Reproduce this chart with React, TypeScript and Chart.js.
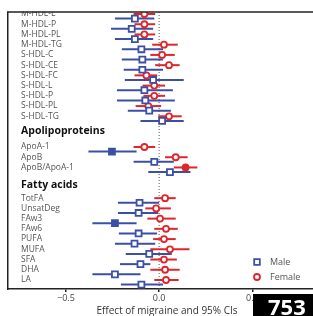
import React, { useEffect, useRef } from "react";
import { Chart, registerables } from "chart.js";

Chart.register(...registerables);

const rowLabels = ["M-HDL-L", "M-HDL-P", "M-HDL-PL", "M-HDL-TG", "S-HDL-C", "S-HDL-CE", "S-HDL-FC", "S-HDL-L", "S-HDL-P", "S-HDL-PL", "S-HDL-TG", "ApoA-1", "ApoB", "ApoB/ApoA-1", "TotFA", "UnsatDeg", "FAw3", "FAw6", "PUFA", "MUFA", "SFA", "DHA", "LA"];
const rowPos = [0, 1, 2, 3, 4, 5, 6, 7, 8, 9, 10, 13, 14, 15, 18, 19, 20, 21, 22, 23, 24, 25, 26];
const headerLabels = ["Apolipoproteins", "Fatty acids"];
const headerPos = [11.45, 16.7];

const femaleEst = [-0.079, -0.079, -0.079, 0.026, 0.016, 0.053, -0.068, -0.026, -0.026, -0.058, 0.053, -0.079, 0.089, 0.142, 0.032, -0.016, 0.005, 0.037, 0.026, 0.058, 0.026, 0.032, 0.037];
const femaleLo = [-0.137, -0.132, -0.132, -0.037, -0.047, -0.021, -0.132, -0.089, -0.084, -0.126, -0.005, -0.137, 0.032, 0.079, -0.026, -0.074, -0.063, -0.026, -0.032, -0.047, -0.047, -0.047, -0.026];
const femaleHi = [-0.021, -0.021, -0.021, 0.1, 0.084, 0.11, -0.01, 0.032, 0.032, 0.011, 0.121, -0.021, 0.153, 0.205, 0.089, 0.063, 0.089, 0.1, 0.089, 0.163, 0.095, 0.11, 0.105];
const femaleSig = [0, 0, 0, 0, 0, 0, 0, 0, 0, 0, 0, 0, 0, 1, 0, 0, 0, 0, 0, 0, 0, 0, 0];

const maleEst = [-0.13, -0.147, -0.13, -0.095, -0.09, -0.09, -0.032, -0.079, -0.074, -0.053, 0.016, -0.253, -0.026, 0.058, -0.105, -0.11, -0.237, -0.11, -0.132, -0.053, -0.1, -0.237, -0.095];
const maleLo = [-0.237, -0.258, -0.237, -0.2, -0.2, -0.19, -0.184, -0.226, -0.226, -0.168, -0.1, -0.379, -0.137, -0.058, -0.221, -0.221, -0.358, -0.216, -0.237, -0.179, -0.21, -0.358, -0.205];
const maleHi = [-0.026, -0.032, -0.032, 0.021, 0.021, 0.021, 0.132, 0.074, 0.084, 0.063, 0.132, -0.121, 0.079, 0.168, 0.0, -0.005, -0.121, -0.011, -0.021, 0.068, -0.047, -0.1, 0.021];
const maleSig = [0, 0, 0, 0, 0, 0, 0, 0, 0, 0, 0, 1, 0, 0, 0, 0, 1, 0, 0, 0, 0, 0, 0];

const xTicks = [-0.5, 0, 0.5];
const legendLabels = ["Male", "Female"];
const axisTitle = "Effect of migraine and 95% CIs";
const badgeText = "753";

const BLUE = "#3b4fa5";
const RED = "#e0262b";
const FONT = "'Open Sans', 'Noto Sans', sans-serif";
const FEMALE_OFF = 0;
const MALE_OFF = 0.45;

const allTicks = [
  ...rowPos.map((p, i) => ({ pos: p, label: rowLabels[i], header: false })),
  ...headerPos.map((p, i) => ({ pos: p, label: headerLabels[i], header: true })),
].sort((a, b) => a.pos - b.pos);

const forestPlugin = {
  id: "forest",
  beforeDatasetsDraw(chart: any) {
    const { ctx, chartArea } = chart;
    const xs = chart.scales.x;
    const ys = chart.scales.y;
    ctx.save();
    const x0 = xs.getPixelForValue(0);
    ctx.strokeStyle = "#555";
    ctx.lineWidth = 1;
    ctx.setLineDash([1, 2]);
    ctx.beginPath();
    ctx.moveTo(x0, chartArea.top);
    ctx.lineTo(x0, chartArea.bottom);
    ctx.stroke();
    ctx.setLineDash([]);
    ctx.lineWidth = 2;
    const drawBars = (lo: number[], hi: number[], off: number, color: string) => {
      ctx.strokeStyle = color;
      rowPos.forEach((p, i) => {
        const y = ys.getPixelForValue(p + off);
        ctx.beginPath();
        ctx.moveTo(xs.getPixelForValue(lo[i]), y);
        ctx.lineTo(xs.getPixelForValue(hi[i]), y);
        ctx.stroke();
      });
    };
    drawBars(maleLo, maleHi, MALE_OFF, BLUE);
    drawBars(femaleLo, femaleHi, FEMALE_OFF, RED);
    ctx.restore();
  },
  afterDraw(chart: any) {
    const { ctx, chartArea } = chart;
    ctx.save();
    ctx.fillStyle = "#fff";
    ctx.fillRect(0, 0, chart.width, chartArea.top - 0.5);
    ctx.strokeStyle = "#222";
    ctx.lineWidth = 1.5;
    ctx.beginPath();
    ctx.moveTo(chartArea.left - 0.75, chartArea.top);
    ctx.lineTo(chart.width, chartArea.top);
    ctx.stroke();
    const lx = 262;
    const ly = [262, 277];
    ctx.lineWidth = 1.8;
    ctx.strokeStyle = BLUE;
    ctx.fillStyle = "#fff";
    ctx.beginPath();
    ctx.rect(lx - 2.8, ly[0] - 2.8, 5.6, 5.6);
    ctx.fill();
    ctx.stroke();
    ctx.strokeStyle = RED;
    ctx.beginPath();
    ctx.arc(lx, ly[1], 3, 0, Math.PI * 2);
    ctx.fill();
    ctx.stroke();
    ctx.fillStyle = "#555";
    ctx.font = `9px ${FONT}`;
    ctx.textBaseline = "middle";
    ctx.textAlign = "left";
    ctx.fillText(legendLabels[0], lx + 13, ly[0]);
    ctx.fillText(legendLabels[1], lx + 13, ly[1]);
    ctx.restore();
  },
};

export default function App() {
  const ref = useRef<HTMLCanvasElement>(null);
  useEffect(() => {
    if (!ref.current) return;
    const chart = new Chart(ref.current, {
      type: "scatter",
      data: {
        datasets: [
          {
            label: "Male",
            data: rowPos.map((p, i) => ({ x: maleEst[i], y: p + MALE_OFF })),
            pointStyle: "rect",
            pointRadius: 4.2,
            borderWidth: 1.8,
            borderColor: BLUE,
            backgroundColor: maleSig.map((s) => (s ? BLUE : "#fff")),
          },
          {
            label: "Female",
            data: rowPos.map((p, i) => ({ x: femaleEst[i], y: p + FEMALE_OFF })),
            pointStyle: "circle",
            pointRadius: 3,
            borderWidth: 1.8,
            borderColor: RED,
            backgroundColor: femaleSig.map((s) => (s ? RED : "#fff")),
          },
        ],
      },
      options: {
        responsive: false,
        animation: false,
        events: [],
        layout: { padding: { top: 12, left: 0, right: 0, bottom: 0 } },
        plugins: { legend: { display: false }, tooltip: { enabled: false } },
        scales: {
          x: {
            type: "linear",
            min: -0.8105,
            max: 0.895,
            afterBuildTicks: (scale: any) => {
              scale.ticks = xTicks.map((v) => ({ value: v }));
            },
            afterFit: (scale: any) => {
              scale.height = 28;
              scale.paddingLeft = 0;
              scale.paddingRight = 0;
            },
            grid: { display: true, drawOnChartArea: false, drawTicks: true, tickLength: 3, color: "#222", lineWidth: 1.5 },
            border: { display: true, color: "#222", width: 1.5 },
            ticks: {
              padding: 1,
              color: "#444",
              font: { family: FONT, size: 9 },
              callback: (v: any) => Number(v).toFixed(1).replace("-", "\u2212"),
            },
            title: { display: true, text: axisTitle, color: "#333", font: { family: FONT, size: 10 }, padding: { top: 1, bottom: 0 } },
          },
          y: {
            type: "linear",
            reverse: true,
            min: -0.195,
            max: 26.88,
            afterBuildTicks: (scale: any) => {
              scale.ticks = allTicks.map((t) => ({ value: t.pos }));
            },
            afterFit: (scale: any) => {
              scale.width = 13;
              scale.paddingTop = 0;
              scale.paddingBottom = 0;
            },
            grid: { display: false, drawTicks: false },
            border: { display: true, color: "#222", width: 1.5 },
            ticks: {
              mirror: true,
              padding: 13,
              autoSkip: false,
              color: (c: any) => (allTicks[c.index] && allTicks[c.index].header ? "#111" : "#555"),
              font: (c: any) =>
                allTicks[c.index] && allTicks[c.index].header
                  ? { family: FONT, size: 10.5, weight: "bold" }
                  : { family: FONT, size: 8.5 },
              callback: (_v: any, i: number) => allTicks[i].label,
            },
          },
        },
      },
      plugins: [forestPlugin],
    } as any);
    return () => chart.destroy();
  }, []);

  return (
    <div style={{ position: "fixed", left: 0, top: 0, width: 313, height: 316, overflow: "hidden", background: "#fff" }}>
      <canvas ref={ref} width={337} height={317} style={{ position: "absolute", left: -5, top: 0, width: 337, height: 317 }} />
      <div
        style={{
          position: "absolute",
          left: 253,
          top: 294,
          width: 80,
          height: 30,
          background: "#000",
          color: "#fff",
          fontFamily: FONT,
          fontWeight: "bold",
          fontSize: 22,
          lineHeight: "24px",
          paddingLeft: 15,
          boxSizing: "border-box",
        }}
      >
        {badgeText}
      </div>
    </div>
  );
}
